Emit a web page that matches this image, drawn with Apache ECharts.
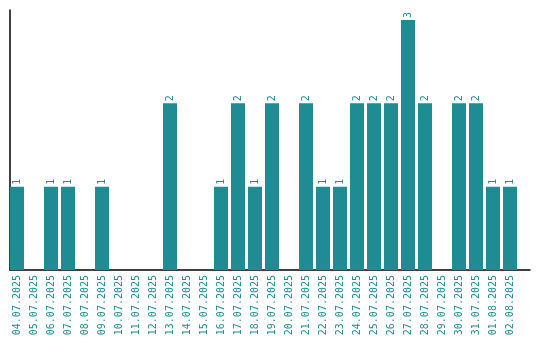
<!DOCTYPE html>
<html><head><meta charset="utf-8">
<script src="https://cdn.jsdelivr.net/npm/echarts@6/dist/echarts.min.js"></script>
<style>html,body{margin:0;padding:0;background:#fff}#c{width:540px;height:340px}</style>
</head><body><div id="c"></div>
<script>
const categories = ["04.07.2025","05.07.2025","06.07.2025","07.07.2025","08.07.2025","09.07.2025","10.07.2025","11.07.2025","12.07.2025","13.07.2025","14.07.2025","15.07.2025","16.07.2025","17.07.2025","18.07.2025","19.07.2025","20.07.2025","21.07.2025","22.07.2025","23.07.2025","24.07.2025","25.07.2025","26.07.2025","27.07.2025","28.07.2025","29.07.2025","30.07.2025","31.07.2025","01.08.2025","02.08.2025"];
const values = [1,0,1,1,0,1,0,0,0,2,0,0,1,2,1,2,0,2,1,1,2,2,2,3,2,0,2,2,1,1];
const color = '#1f8b92';
const chart = echarts.init(document.getElementById('c'), null, {renderer:'canvas'});
chart.setOption({
  animation:false,
  grid:[
    {left:8.5,right:21.5,top:10,bottom:70,containLabel:false},
    {left:10,right:10,top:10,bottom:70,containLabel:false}
  ],
  xAxis:[
    {type:'category',data:categories,gridIndex:0,
      axisLine:{show:false},axisTick:{show:false},
      axisLabel:{rotate:90,interval:0,color:color,fontFamily:'DejaVu Sans Mono',fontSize:10,margin:5}},
    {type:'value',gridIndex:1,min:0,max:1,
      axisLine:{show:true,lineStyle:{color:'#000',width:1.5}},axisTick:{show:false},
      axisLabel:{show:false},splitLine:{show:false}}
  ],
  yAxis:[
    {type:'value',gridIndex:0,min:0,max:3.12,axisLine:{show:false},
      axisTick:{show:false},axisLabel:{show:false},splitLine:{show:false}},
    {type:'value',gridIndex:1,min:0,max:1,axisLine:{show:true,lineStyle:{color:'#000',width:1.5}},
      axisTick:{show:false},axisLabel:{show:false},splitLine:{show:false}}
  ],
  series:[{type:'bar',xAxisIndex:0,yAxisIndex:0,data:values.map(v=>v===0?null:v),barWidth:14,
    itemStyle:{color:color},z:1,
    label:{show:true,position:'top',rotate:90,align:'left',verticalAlign:'middle',distance:2,
      color:color,fontFamily:'DejaVu Sans Mono',fontSize:10}}]
});
</script></body></html>
